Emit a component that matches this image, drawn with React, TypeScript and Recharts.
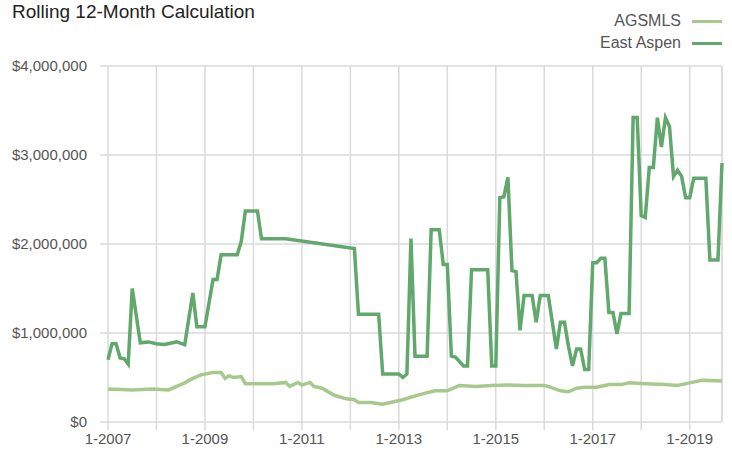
import React from "react";
import { LineChart, Line, CartesianGrid, XAxis, YAxis, ReferenceLine } from "recharts";

// x values are months counted from 1-2007
const eastAspenMonths = [
  0, 1, 2, 3, 4, 5, 6, 8, 10, 12, 14, 16, 17, 19, 21, 22, 24, 26, 27, 28, 32, 33, 34, 37, 38, 44,
  61, 62, 67, 68, 72, 73, 74, 75, 76, 79, 80, 82, 83, 84, 85, 86, 88, 89, 90, 94, 95, 96, 97, 98,
  99, 100, 101, 102, 103, 105, 106, 107, 109, 111, 112, 113, 114, 115, 116, 117, 118, 119, 120,
  121, 122, 123, 124, 125, 126, 127, 129, 130, 131, 132, 133, 134, 135, 136, 137, 138, 139, 140,
  141, 142, 143, 144, 145, 148, 149, 151, 152,
];
const eastAspenValues = [
  700000, 880000, 880000, 720000, 710000, 650000, 1500000, 890000, 900000, 880000, 870000, 890000,
  900000, 870000, 1450000, 1070000, 1070000, 1600000, 1600000, 1880000, 1880000, 2030000, 2370000,
  2370000, 2060000, 2060000, 1950000, 1210000, 1210000, 540000, 540000, 500000, 540000, 2060000,
  740000, 740000, 2160000, 2160000, 1770000, 1770000, 740000, 730000, 630000, 630000, 1710000,
  1710000, 630000, 630000, 2520000, 2530000, 2750000, 1700000, 1690000, 1030000, 1420000, 1420000,
  1120000, 1420000, 1420000, 820000, 1120000, 1120000, 850000, 630000, 820000, 820000, 590000,
  590000, 1790000, 1790000, 1840000, 1840000, 1230000, 1230000, 990000, 1220000, 1220000, 3420000,
  3420000, 2320000, 2300000, 2860000, 2860000, 3420000, 3090000, 3420000, 3320000, 2760000,
  2830000, 2760000, 2520000, 2520000, 2740000, 2740000, 1820000, 1820000, 2910000,
];

const agsmlsMonths = [
  0, 6, 11, 15, 17, 19, 21, 23, 26, 28, 29, 30, 31, 33, 34, 36, 41, 44, 45, 47, 48, 50, 51, 53, 56,
  59, 61, 62, 65, 68, 71, 73, 75, 79, 81, 84, 87, 91, 95, 99, 103, 108, 109, 112, 114, 116, 118,
  121, 124, 127, 129, 133, 138, 141, 144, 147, 152,
];
const agsmlsValues = [
  370000, 360000, 370000, 360000, 400000, 440000, 490000, 530000, 555000, 555000, 490000, 520000,
  500000, 510000, 430000, 430000, 430000, 445000, 400000, 445000, 415000, 445000, 400000, 380000,
  300000, 260000, 250000, 220000, 220000, 200000, 230000, 250000, 280000, 330000, 350000, 350000,
  410000, 400000, 410000, 415000, 410000, 410000, 400000, 350000, 340000, 380000, 390000, 390000,
  420000, 420000, 440000, 430000, 420000, 410000, 440000, 470000, 460000,
];

const yearTicks = [0, 12, 24, 36, 48, 60, 72, 84, 96, 108, 120, 132, 144];
const valueTicks = [0, 1000000, 2000000, 3000000, 4000000];

const seriesNames = ["AGSMLS", "East Aspen"];
const seriesColors = ["#a7c98b", "#60a86b"];

const eastAspen = eastAspenMonths.map((m, i) => ({ m, v: eastAspenValues[i] }));
const agsmls = agsmlsMonths.map((m, i) => ({ m, v: agsmlsValues[i] }));

const font = "'Liberation Sans', Arial, sans-serif";

const yearLabel = (m: number) => (m % 24 === 0 ? `1-${2007 + m / 12}` : "");
const moneyLabel = (v: number) => "$" + v.toLocaleString("en-US");

const LegendBox = () => (
  <div
    style={{
      position: "absolute",
      top: 10,
      right: 10,
      fontFamily: font,
      fontSize: 16,
      color: "#555",
      zIndex: 2,
    }}
  >
    {seriesNames.map((name, i) => (
      <div key={name} style={{ display: "flex", alignItems: "center", justifyContent: "flex-end", height: 22 }}>
        <span>{name}</span>
        <span
          style={{
            display: "inline-block",
            width: 30,
            height: 3,
            marginLeft: 11,
            background: seriesColors[i],
          }}
        />
      </div>
    ))}
  </div>
);

export default function App() {
  return (
    <div style={{ position: "absolute", left: 0, top: 0, width: 732, height: 457, background: "#fff" }}>
      <div
        style={{
          position: "absolute",
          left: 12,
          top: 1,
          fontFamily: font,
          fontSize: 19,
          color: "#222",
          zIndex: 2,
        }}
      >
        Rolling 12-Month Calculation
      </div>
      <LegendBox />
      <LineChart width={732} height={457} margin={{ top: 66, right: 10, bottom: 5, left: 8 }}>
        <CartesianGrid stroke="#dadada" strokeWidth={1.5} />
        <XAxis
          dataKey="m"
          type="number"
          domain={[0, 152]}
          ticks={yearTicks}
          tickFormatter={yearLabel}
          axisLine={false}
          tickLine={{ stroke: "#dadada", strokeWidth: 1.5 }}
          tickSize={8}
          tickMargin={3}
          height={30}
          interval={0}
          tick={{ fill: "#555", fontSize: 15, fontFamily: font }}
        />
        <YAxis
          type="number"
          domain={[0, 4000000]}
          ticks={valueTicks}
          tickFormatter={moneyLabel}
          axisLine={false}
          tickLine={{ stroke: "#dadada", strokeWidth: 1.5 }}
          tickSize={8}
          tickMargin={13}
          width={100}
          tick={{ fill: "#555", fontSize: 15, fontFamily: font }}
        />
        <ReferenceLine x={152} stroke="#dadada" strokeWidth={1.5} />
        <Line
          data={agsmls}
          dataKey="v"
          name="AGSMLS"
          type="linear"
          stroke={seriesColors[0]}
          strokeWidth={3.5}
          dot={false}
          isAnimationActive={false}
        />
        <Line
          data={eastAspen}
          dataKey="v"
          name="East Aspen"
          type="linear"
          stroke={seriesColors[1]}
          strokeWidth={3.5}
          dot={false}
          isAnimationActive={false}
        />
      </LineChart>
    </div>
  );
}
